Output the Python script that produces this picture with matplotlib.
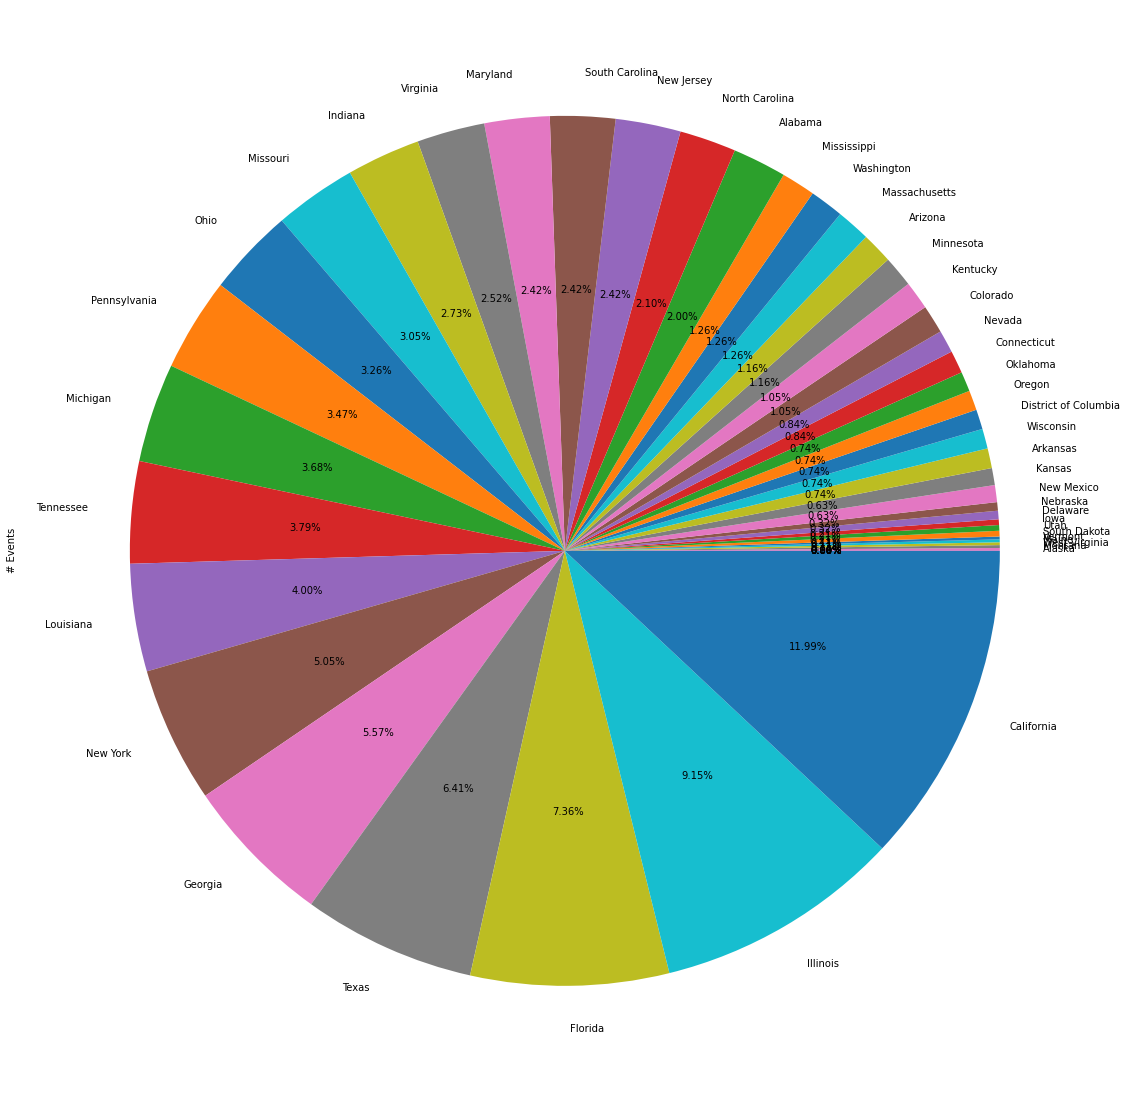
import matplotlib
matplotlib.use('Agg')
import matplotlib.pyplot as plt

# events per state, smallest first (pie runs counter clockwise from 0)
# the first six slices are empty and carry no name in the picture
states = ['', '', '', '', '', '',
          'Alaska', 'Montana', 'West Virginia', 'Maine', 'Vermont',
          'South Dakota', 'Utah', 'Iowa', 'Delaware', 'Nebraska',
          'New Mexico', 'Kansas', 'Arkansas', 'Wisconsin', 'District of Columbia',
          'Oregon', 'Oklahoma', 'Connecticut', 'Nevada', 'Colorado', 'Kentucky',
          'Minnesota', 'Arizona', 'Massachusetts', 'Washington', 'Mississippi',
          'Alabama', 'North Carolina', 'New Jersey', 'South Carolina', 'Maryland',
          'Virginia', 'Indiana', 'Missouri', 'Ohio', 'Pennsylvania', 'Michigan',
          'Tennessee', 'Louisiana', 'New York', 'Georgia', 'Texas', 'Florida',
          'Illinois', 'California']
events = [0, 0, 0, 0, 0, 0,
          1, 1, 1, 1, 1,
          2, 2, 2, 3, 3,
          6, 6, 7, 7, 7,
          7, 7, 8, 8, 10, 10,
          11, 11, 12, 12, 12,
          19, 20, 23, 23, 23,
          24, 26, 29, 31, 33, 35,
          36, 38, 48, 53, 61, 70,
          87, 114]

W, H = 1126, 1101
cx, cy, r = 564.85, 550.85, 435   # pie centre and radius in pixels

fig = plt.figure(figsize=(W/72, H/72), dpi=72)
aw = 2.5*r
ax = fig.add_axes([(cx - aw/2)/W, (H - cy - aw/2)/H, aw/W, aw/H])
ax.pie(events, labels=states, autopct='%.2f%%')
ax.set_ylabel('# Events', labelpad=0)
ax.yaxis.set_label_coords((17 - (cx - aw/2))/aw, 0.5)
fig.savefig('out.png', dpi=72)
